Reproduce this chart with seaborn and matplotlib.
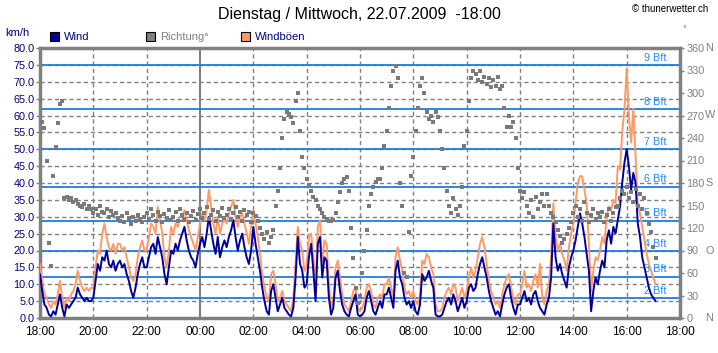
import numpy as np
import pandas as pd
import matplotlib.pyplot as plt
from matplotlib.patches import Rectangle
import matplotlib.transforms as mtransforms
import seaborn as sns

# 5-Minuten-Werte ab Dienstag 18:00 (km/h bzw. Grad)
wind_kmh = [
    13, 8, 4, 3, 1, 0.5, 2, 1, 4, 7, 3, 0.5,
    4, 3, 4, 5, 6, 9, 7, 6, 5, 6, 5, 5,
    6, 11, 16, 14, 18, 17, 20, 16, 15, 17, 14, 16,
    17, 15, 16, 13, 11, 8, 6, 9, 13, 16, 18, 15,
    15, 18, 21, 22, 19, 24, 21, 18, 13, 10, 15, 20,
    19, 22, 20, 23, 25, 27, 23, 20, 18, 17, 15, 19,
    22, 24, 21, 25, 30, 26, 22, 19, 24, 18, 21, 23,
    21, 24, 26, 29, 24, 20, 23, 25, 21, 18, 16, 20,
    27, 22, 18, 14, 9, 5, 2, 1, 8, 10, 6, 2,
    4, 6, 3, 2, 1, 0.5, 3, 12, 24, 16, 14, 9,
    10, 18, 22, 14, 5, 22, 24, 12, 18, 17, 6, 1,
    3, 12, 14, 8, 4, 2, 1, 0.5, 3, 5, 7, 1,
    0.5, 1, 2, 6, 8, 5, 2, 1, 3, 5, 3, 7,
    7, 9, 6, 3, 14, 17, 12, 10, 6, 4, 5, 3,
    5, 2, 1, 4, 13, 11, 12, 14, 11, 9, 1, 0.5,
    0.5, 1, 3, 5, 6, 4, 7, 5, 2, 4, 6, 3,
    5, 9, 10, 8, 9, 13, 16, 18, 15, 12, 8, 5,
    3, 1, 2, 0.5, 4, 7, 9, 10, 6, 3, 1, 4,
    4, 6, 8, 5, 6, 4, 7, 8, 5, 3, 2, 1,
    4, 6, 12, 28, 18, 14, 16, 13, 11, 9, 15, 18,
    20, 23, 27, 31, 28, 24, 19, 14, 2, 8, 12, 10,
    14, 17, 15, 23, 26, 22, 27, 25, 29, 33, 40, 46,
    50, 45, 38, 43, 40, 28, 24, 18, 15, 12, 9, 7,
    6, 5,
]
gust_kmh = [
    16, 11, 7, 6, 4, 3, 5, 4, 7, 11, 6, 3,
    6, 5, 7, 8, 10, 14, 11, 9, 8, 9, 8, 9,
    9, 15, 20, 19, 25, 28, 24, 21, 20, 22, 19, 22,
    22, 20, 21, 18, 15, 12, 11, 13, 18, 21, 23, 20,
    20, 24, 28, 27, 25, 33, 29, 25, 18, 15, 20, 27,
    25, 28, 27, 30, 30, 32, 29, 26, 24, 22, 20, 24,
    28, 31, 29, 32, 38, 33, 28, 25, 30, 25, 28, 29,
    28, 31, 33, 35, 30, 27, 30, 31, 28, 25, 22, 27,
    32, 28, 24, 19, 13, 9, 6, 5, 13, 14, 10, 5,
    6, 8, 5, 4, 3, 2, 6, 16, 27, 22, 20, 14,
    15, 24, 25, 19, 8, 27, 29, 16, 23, 22, 10, 3,
    5, 15, 17, 12, 7, 4, 3, 2, 5, 8, 9, 3,
    2, 3, 5, 9, 10, 8, 4, 3, 6, 7, 6, 10,
    10, 12, 9, 6, 18, 21, 17, 14, 9, 7, 8, 6,
    8, 5, 4, 7, 17, 16, 19, 18, 15, 13, 4, 2,
    2, 3, 6, 8, 9, 7, 10, 9, 5, 7, 9, 6,
    8, 12, 15, 12, 14, 18, 22, 24, 21, 16, 11, 8,
    6, 4, 5, 3, 7, 10, 12, 13, 9, 6, 4, 7,
    7, 10, 14, 9, 10, 8, 11, 13, 9, 16, 6, 4,
    8, 10, 18, 34, 24, 20, 22, 19, 17, 14, 21, 25,
    28, 34, 40, 42, 42, 38, 34, 22, 8, 14, 18, 17,
    20, 24, 22, 30, 33, 32, 35, 34, 45, 44, 55, 62,
    74, 60, 52, 62, 48, 34, 31, 27, 23, 19, 16, 14,
    12, 10,
]
direction_deg = [
    290, 262, 253, 210, 100, 70, 190, 228, 260, 285, 290, 160,
    162, 158, 160, 155, 157, 152, 150, 148, 152, 146, 150, 145,
    140, 145, 138, 150, 142, 140, 146, 135, 143, 138, 140, 133,
    130, 136, 128, 140, 133, 126, 135, 130, 138, 132, 128, 135,
    140, 132, 145, 138, 130, 142, 136, 128, 139, 134, 144, 131,
    135, 142, 130, 146, 138, 132, 140, 128, 136, 143, 131, 139,
    145, 134, 140, 148, 132, 138, 144, 130, 142, 136, 147, 133,
    138, 145, 132, 140, 148, 135, 142, 130, 144, 137, 141, 128,
    140, 136, 130, 120, 112, 105, 115, 100, 108, 118, 150, 170,
    200, 240, 265, 275, 272, 268, 260, 290, 300, 250, 215, 200,
    185, 178, 170, 162, 157, 150, 145, 140, 135, 132, 130, 130,
    131, 140, 155, 168, 180, 186, 188, 170, 120, 80, 40, 20,
    30, 60, 90, 117, 150, 166, 175, 182, 186, 186, 200, 230,
    250, 280, 310, 330, 336, 320, 180, 150, 60, 55, 115, 190,
    215, 250, 280, 310, 320, 300, 275, 265, 270, 262, 275, 268,
    250, 225, 200, 170, 150, 140, 160, 145, 138, 150, 175, 230,
    250, 290, 320, 330, 325, 318, 330, 315, 322, 312, 320, 308,
    318, 310, 322, 305, 310, 280, 255, 270, 255, 262, 240, 200,
    170, 160, 168, 150, 140, 158, 135, 162, 145, 155, 165, 150,
    165, 150, 140, 135, 128, 118, 110, 100, 105, 112, 120, 128,
    140, 150, 135, 145, 130, 155, 140, 128, 138, 145, 132, 140,
    135, 142, 128, 138, 145, 130, 140, 148, 150, 160, 170, 165,
    175, 160, 168, 155, 172, 150, 165, 145, 160, 140, 125, 115,
    95, 80,
]
step_min = 5

hour_labels = ["18:00", "20:00", "22:00", "00:00", "02:00", "04:00", "06:00",
               "08:00", "10:00", "12:00", "14:00", "16:00", "18:00"]
bft_kmh = [5.8, 12.2, 19.8, 28.8, 38.9, 50.0, 61.9, 74.9]
bft_labels = ["2 Bft", "3 Bft", "4 Bft", "5 Bft", "6 Bft", "7 Bft", "8 Bft", "9 Bft"]
dir_ticks = [0, 30, 60, 90, 120, 150, 180, 210, 240, 270, 300, 330, 360]
compass = {0: "N", 90: "O", 180: "S", 270: "W", 360: "N"}

df = pd.DataFrame({"wind": wind_kmh, "gust": gust_kmh, "dir": direction_deg})
df["t"] = np.arange(len(df)) * step_min / 60.0

sns.set_style("white")
plt.rcParams["font.family"] = ["Liberation Sans", "DejaVu Sans"]

NAVY = "#000080"
GREY = "#808080"
WIND_C = "#000099"
GUST_C = "#ff9966"
BFT_C = "#1a7ee0"

fig = plt.figure(figsize=(7.18, 3.53), dpi=100)
ax = fig.add_axes([40 / 718, 1 - 318 / 353, 640 / 718, 270 / 353])
ax.set_facecolor("white")

# Gitter
for v in range(5, 80, 5):
    ax.axhline(v, color=GREY, lw=1, ls=(0, (3, 2.2)), zorder=1)
for h in range(2, 24, 2):
    if h == 6:
        ax.axvline(h, color=GREY, lw=1.5, zorder=1)
    else:
        ax.axvline(h, color=GREY, lw=1, ls=(0, (3, 2.2)), zorder=1)
for lvl, lab in zip(bft_kmh, bft_labels):
    ax.axhline(lvl, color=BFT_C, lw=1.3, zorder=1.5)
    ax.text(23.5, lvl + 1.3, lab, color="#1e8cff", fontsize=7.8,
            ha="right", va="baseline", zorder=2)

sns.lineplot(data=df, x="t", y="gust", color=GUST_C, lw=1.4, ax=ax, zorder=3)
sns.lineplot(data=df, x="t", y="wind", color=WIND_C, lw=1.4, ax=ax, zorder=4)

ax.set_xlim(0, 24)
ax.set_ylim(0, 80)
ax.set_xticks(range(0, 25, 2))
ax.set_xticklabels(hour_labels, fontsize=8.6, color="black")
ax.set_yticks(range(0, 81, 5))
ax.set_yticklabels([f"{v:.1f}" for v in range(0, 81, 5)], fontsize=7.8, color=NAVY)
ax.tick_params(axis="x", length=0, pad=6)
ax.tick_params(axis="y", length=3, width=1, color=GREY, pad=1)
ax.set_xlabel("")
ax.set_ylabel("")
for s in ax.spines.values():
    s.set_color(GREY)
    s.set_linewidth(2.5)
    s.set_visible(True)

ax2 = ax.twinx()
sns.scatterplot(data=df, x="t", y="dir", ax=ax2, color="#7a7a7a", marker="s",
                s=5, linewidth=0, zorder=5)
ax2.set_ylim(0, 360)
ax2.set_yticks(dir_ticks)
ax2.set_yticklabels([str(d) for d in dir_ticks], fontsize=7.8, color=GREY)
ax2.tick_params(axis="y", length=3, width=1, color=GREY, pad=1.5)
ax2.set_ylabel("")
ax2.set_xlabel("")
for s in ax2.spines.values():
    s.set_visible(False)
trans = mtransforms.blended_transform_factory(fig.transFigure, ax2.transData)
for d, letter in compass.items():
    fig.text(705 / 718, d, letter, transform=trans, fontsize=7.8, color=GREY,
             ha="left", va="center")

# Titel und Beschriftungen
fig.text(0.501, 1 - 15 / 353, "Dienstag / Mittwoch, 22.07.2009  -18:00",
         ha="center", va="center", fontsize=11.5, color="black")
fig.text(708 / 718, 1 - 9 / 353, "\u00a9 thunerwetter.ch", ha="right",
         va="center", fontsize=7, color="black")
fig.text(5 / 718, 1 - 33 / 353, "km/h", ha="left", va="center",
         fontsize=8, color=NAVY)
fig.text(682 / 718, 1 - 29 / 353, "\u00b0", ha="left", va="center",
         fontsize=7, color=GREY)

legend_items = [(50, WIND_C, "Wind", NAVY), (146, GREY, "Richtung\u00b0", GREY),
                (241, GUST_C, "Windb\u00f6en", NAVY)]
for x0, fc, lab, tc in legend_items:
    fig.patches.append(Rectangle((x0 / 718, 1 - 41 / 353), 9 / 718, 9 / 353,
                                 transform=fig.transFigure, facecolor=fc,
                                 edgecolor="black", lw=0.8))
    fig.text((x0 + 14) / 718, 1 - 37 / 353, lab, ha="left", va="center",
             fontsize=8, color=tc)

fig.savefig("out.png", dpi=100)
